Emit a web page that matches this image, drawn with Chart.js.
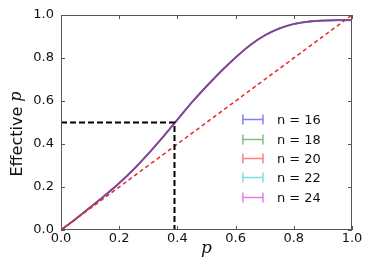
<!DOCTYPE html>
<html>
<head>
<meta charset="utf-8">
<script src="https://cdn.jsdelivr.net/npm/chart.js@4/dist/chart.umd.min.js"></script>
<style>
  html, body { margin: 0; padding: 0; background: #fff; }
  #wrap { width: 374px; height: 275px; }
</style>
</head>
<body>
<div id="wrap"><canvas id="effChart" width="374" height="275"></canvas></div>
<script>
// p values along the x axis
const pValues = [0, 0.05, 0.1, 0.15, 0.2, 0.25, 0.3, 0.35, 0.4, 0.45, 0.5, 0.55, 0.6, 0.65, 0.7, 0.75, 0.8, 0.85, 0.9, 0.95, 1.0];

// effective p for each system size
const n16 = [0, 0.052, 0.106, 0.161, 0.219, 0.284, 0.356, 0.433, 0.514, 0.595, 0.669, 0.739, 0.802, 0.859, 0.904, 0.936, 0.957, 0.968, 0.973, 0.975, 0.975];
const n18 = [0, 0.051, 0.105, 0.160, 0.218, 0.283, 0.355, 0.432, 0.513, 0.594, 0.668, 0.738, 0.802, 0.860, 0.905, 0.937, 0.958, 0.969, 0.974, 0.976, 0.976];
const n20 = [0, 0.051, 0.105, 0.160, 0.218, 0.283, 0.355, 0.432, 0.513, 0.594, 0.668, 0.738, 0.802, 0.860, 0.905, 0.937, 0.958, 0.969, 0.974, 0.976, 0.977];
const n22 = [0, 0.051, 0.104, 0.159, 0.217, 0.282, 0.354, 0.431, 0.512, 0.593, 0.667, 0.738, 0.802, 0.860, 0.905, 0.937, 0.958, 0.969, 0.974, 0.976, 0.976];
const n24 = [0, 0.050, 0.104, 0.159, 0.217, 0.282, 0.354, 0.431, 0.512, 0.593, 0.668, 0.738, 0.803, 0.861, 0.906, 0.938, 0.959, 0.970, 0.975, 0.977, 0.978];

const seriesLabels = ["n = 16", "n = 18", "n = 20", "n = 22", "n = 24"];
const seriesColors = ["rgba(0,0,255,0.5)", "rgba(0,128,0,0.5)", "rgba(255,0,0,0.5)", "rgba(0,191,191,0.5)", "rgba(191,0,191,0.5)"];

// reference lines
const diagonalX = [0, 1];
const diagonalY = [0, 1];
const markX = [0, 0.39, 0.39];
const markY = [0.5, 0.5, 0];

const tickValues = [0, 0.2, 0.4, 0.6, 0.8, 1.0];

function toPoints(xs, ys) {
    return xs.map((x, i) => ({ x: x, y: ys[i] }));
}

const seriesData = [n16, n18, n20, n22, n24];
const datasets = seriesData.map((ys, i) => ({
    label: seriesLabels[i],
    data: toPoints(pValues, ys),
    borderColor: seriesColors[i],
    borderWidth: 1.6,
    pointRadius: 0,
    cubicInterpolationMode: "monotone",
    order: 5 - i,   // later sizes drawn on top, like matplotlib
    fill: false
}));

datasets.push({
    label: "diag",
    data: toPoints(diagonalX, diagonalY),
    borderColor: "#e8262a",
    borderWidth: 1.5,
    borderDash: [4, 3],
    pointRadius: 0,
    order: 0,
    fill: false
});
datasets.push({
    label: "mark",
    data: toPoints(markX, markY),
    borderColor: "#000",
    borderWidth: 2,
    borderDash: [6, 3],
    pointRadius: 0,
    order: -1,
    fill: false
});

// inner ticks, frame, axis titles and errorbar-style legend
const decorations = {
    id: "decorations",
    afterDraw(chart) {
        const c = chart.ctx;
        const a = chart.chartArea;
        const xs = chart.scales.x, ys = chart.scales.y;
        c.save();
        c.strokeStyle = "#555";
        c.lineWidth = 1;
        c.strokeRect(a.left + 0.5, a.top + 0.5, a.right - a.left - 1, a.bottom - a.top - 1);
        tickValues.forEach(v => {
            const px = Math.round(xs.getPixelForValue(v)) + 0.5;
            const py = Math.round(ys.getPixelForValue(v)) + 0.5;
            c.beginPath();
            c.moveTo(px, a.bottom); c.lineTo(px, a.bottom - 4);
            c.moveTo(px, a.top); c.lineTo(px, a.top + 4);
            c.moveTo(a.left, py); c.lineTo(a.left + 4, py);
            c.moveTo(a.right, py); c.lineTo(a.right - 4, py);
            c.stroke();
        });

        // x title
        c.fillStyle = "#111";
        c.font = "italic 17px 'DejaVu Serif'";
        c.textAlign = "center";
        c.textBaseline = "alphabetic";
        c.fillText("p", (a.left + a.right) / 2, 253);

        // y title
        c.translate(22, 134);
        c.rotate(-Math.PI / 2);
        c.textBaseline = "alphabetic";
        c.font = "16px 'DejaVu Sans'";
        const w1 = c.measureText("Effective ").width;
        c.font = "italic 16px 'DejaVu Serif'";
        const w2 = c.measureText("p").width;
        const start = -(w1 + w2) / 2;
        c.textAlign = "left";
        c.font = "16px 'DejaVu Sans'";
        c.fillText("Effective ", start, 0);
        c.font = "italic 16px 'DejaVu Serif'";
        c.fillText("p", start + w1, -1);
        c.restore();

        // legend
        c.save();
        const rows = [0.516, 0.423, 0.335, 0.247, 0.153];
        const gx0 = xs.getPixelForValue(0.625);
        const gx1 = xs.getPixelForValue(0.694);
        const tx = xs.getPixelForValue(0.742);
        c.font = "13px 'DejaVu Sans'";
        c.textBaseline = "middle";
        c.textAlign = "left";
        seriesLabels.forEach((lab, i) => {
            const y = Math.round(ys.getPixelForValue(rows[i])) + 0.5;
            c.strokeStyle = seriesColors[i];
            c.lineWidth = 1.5;
            c.beginPath();
            c.moveTo(gx0, y); c.lineTo(gx1, y);
            c.moveTo(gx0, y - 5); c.lineTo(gx0, y + 5);
            c.moveTo(gx1, y - 5); c.lineTo(gx1, y + 5);
            c.stroke();
            c.fillStyle = "#111";
            c.fillText(lab, tx, y + 1);
        });
        c.restore();
    }
};

new Chart(document.getElementById("effChart"), {
    type: "line",
    data: { datasets: datasets },
    options: {
        responsive: false,
        animation: false,
        layout: { padding: { left: 0, right: 22, top: 15, bottom: 0 } },
        plugins: { legend: { display: false }, tooltip: { enabled: false } },
        scales: {
            x: {
                type: "linear",
                min: 0, max: 1,
                afterBuildTicks: s => { s.ticks = tickValues.map(v => ({ value: v })); },
                afterFit: s => { s.height = 45; },
                grid: { display: false, drawTicks: false },
                border: { display: false },
                ticks: {
                    color: "#111",
                    padding: 1,
                    maxRotation: 0,
                    font: { family: "DejaVu Sans", size: 13 },
                    callback: v => v.toFixed(1)
                }
            },
            y: {
                type: "linear",
                min: 0, max: 1,
                afterBuildTicks: s => { s.ticks = tickValues.map(v => ({ value: v })); },
                afterFit: s => { s.width = 61; },
                grid: { display: false, drawTicks: false },
                border: { display: false },
                ticks: {
                    color: "#111",
                    padding: 7,
                    font: { family: "DejaVu Sans", size: 13 },
                    callback: v => v.toFixed(1)
                }
            }
        }
    },
    plugins: [decorations]
});
</script>
</body>
</html>
